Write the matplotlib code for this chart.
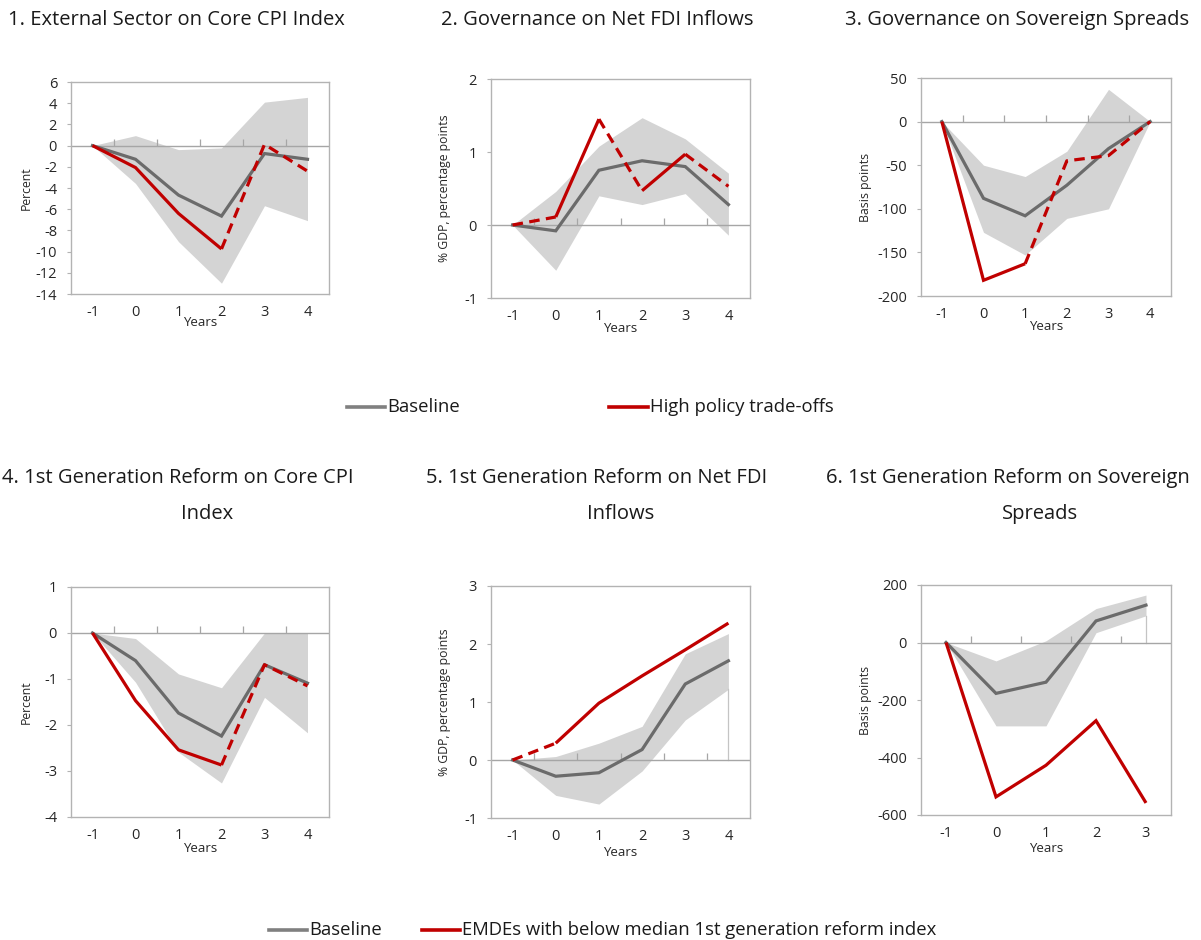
import matplotlib
matplotlib.use("Agg")
import matplotlib.pyplot as plt
from matplotlib.lines import Line2D
import numpy as np

plt.rcParams['font.family'] = ['Open Sans', 'DejaVu Sans']

# ---------------- data ----------------
years6 = [-1, 0, 1, 2, 3, 4]
years5 = [-1, 0, 1, 2, 3]

titles = [
    ["1. External Sector on Core CPI Index"],
    ["2. Governance on Net FDI Inflows"],
    ["3. Governance on Sovereign Spreads"],
    ["4. 1st Generation Reform on Core CPI", "Index"],
    ["5. 1st Generation Reform on Net FDI", "Inflows"],
    ["6. 1st Generation Reform on Sovereign", "Spreads"],
]
ylabels = ["Percent", "% GDP, percentage points", "Basis points",
           "Percent", "% GDP, percentage points", "Basis points"]

# Panel 1
p1_base = [0, -1.29, -4.67, -6.65, -0.75, -1.29]
p1_red = [0, -2.07, -6.40, -9.75, 0.12, -2.41]
p1_up = [0, 0.94, -0.38, -0.22, 4.10, 4.55]
p1_lo = [0, -3.57, -9.06, -12.98, -5.67, -7.08]
p1_dash = [0, 0, 0, 1, 1]
p1_yticks = [6, 4, 2, 0, -2, -4, -6, -8, -10, -12, -14]

# Panel 2
p2_base = [0, -0.08, 0.75, 0.88, 0.80, 0.28]
p2_red = [0, 0.11, 1.45, 0.47, 0.97, 0.53]
p2_up = [0, 0.46, 1.08, 1.47, 1.18, 0.71]
p2_lo = [0, -0.62, 0.40, 0.28, 0.43, -0.14]
p2_dash = [1, 0, 1, 0, 1]
p2_yticks = [2, 1, 0, -1]

# Panel 3
p3_base = [0, -88, -108, -73, -31, 0]
p3_red = [0, -182, -163, -45, -39, 0]
p3_up = [0, -50, -63, -34, 37, 0]
p3_lo = [0, -127, -153, -111, -100, 0]
p3_dash = [0, 0, 1, 1, 1]
p3_yticks = [50, 0, -50, -100, -150, -200]

# Panel 4
p4_base = [0, -0.60, -1.74, -2.24, -0.69, -1.09]
p4_red = [0, -1.47, -2.54, -2.87, -0.69, -1.15]
p4_up = [0, -0.12, -0.89, -1.19, 0.0, 0.0]
p4_lo = [0, -1.07, -2.59, -3.26, -1.40, -2.17]
p4_dash = [0, 0, 0, 1, 1]
p4_yticks = [1, 0, -1, -2, -3, -4]

# Panel 5
p5_base = [0, -0.28, -0.22, 0.18, 1.31, 1.71]
p5_red = [0, 0.29, 0.98, 1.45, 1.90, 2.36]
p5_up = [0, 0.06, 0.29, 0.58, 1.83, 2.18]
p5_lo = [0, -0.61, -0.76, -0.19, 0.69, 1.22]
p5_dash = [1, 0, 0, 0, 0]
p5_yticks = [3, 2, 1, 0, -1]

# Panel 6
p6_base = [0, -177, -138, 75, 130]
p6_red = [0, -537, -427, -272, -558]
p6_up = [0, -64, 6, 118, 165]
p6_lo = [0, -290, -290, 34, 93]
p6_dash = [0, 0, 0, 0]
p6_yticks = [200, 0, -200, -400, -600]

panels = [
    (years6, p1_base, p1_red, p1_up, p1_lo, p1_dash, p1_yticks),
    (years6, p2_base, p2_red, p2_up, p2_lo, p2_dash, p2_yticks),
    (years6, p3_base, p3_red, p3_up, p3_lo, p3_dash, p3_yticks),
    (years6, p4_base, p4_red, p4_up, p4_lo, p4_dash, p4_yticks),
    (years6, p5_base, p5_red, p5_up, p5_lo, p5_dash, p5_yticks),
    (years5, p6_base, p6_red, p6_up, p6_lo, p6_dash, p6_yticks),
]

legend1 = ["Baseline", "High policy trade-offs"]
legend2 = ["Baseline", "EMDEs with below median 1st generation reform index"]

# ---------------- style ----------------
W, H = 1201, 940
GRAY = '#6b6b6b'
RED = '#c00000'
BAND = '#d4d4d4'
SPINE = '#b3b3b3'
ZERO = '#a6a6a6'
TXT = '#262626'

# axes boxes in pixels: left, right, top, bottom
boxes = [
    (71, 329, 82, 294),
    (491, 750, 79, 298),
    (921, 1171, 78, 296),
    (71, 329, 587, 817),
    (491, 750, 586, 818),
    (921, 1171, 585, 815),
]
ylabel_x = [33, 451, 872, 33, 451, 872]
years_off = [29, 30, 31, 31, 34, 33]

title_pos = [
    [(176, 20)], [(597, 20)], [(1017, 20)],
    [(178, 478), (207, 514)], [(597, 478), (621, 514)], [(1008, 478), (1040, 514)],
]

fig = plt.figure(figsize=(W / 100, H / 100), dpi=100)


def draw_red(ax, x, y, dash):
    # group consecutive segments of the same style into polylines
    i = 0
    n = len(dash)
    while i < n:
        j = i
        while j + 1 < n and dash[j + 1] == dash[i]:
            j += 1
        xs = x[i:j + 2]
        ys = y[i:j + 2]
        if dash[i]:
            ax.plot(xs, ys, color=RED, lw=2.3, dashes=(3.3, 2.0),
                    solid_capstyle='butt', dash_capstyle='butt', zorder=5)
        else:
            ax.plot(xs, ys, color=RED, lw=2.3, solid_capstyle='butt',
                    solid_joinstyle='miter', zorder=5)
        i = j + 1


for k, (x, base, red, up, lo, dash, yt) in enumerate(panels):
    l, r, t, b = boxes[k]
    ax = fig.add_axes([l / W, 1 - b / H, (r - l) / W, (b - t) / H])
    x = np.array(x, dtype=float)
    ax.fill_between(x, lo, up, color=BAND, lw=0, zorder=1)
    # thin edge at the end of the band when it does not include zero
    if lo[-1] > 0:
        ax.plot([x[-1], x[-1]], [0, lo[-1]], color='#c4c4c4', lw=0.9, zorder=1.5)
    ax.axhline(0, color=ZERO, lw=1.0, zorder=2)
    # category boundary ticks on the zero line
    ax.plot(x[:-1] + 0.5, np.zeros(len(x) - 1), ls='none', marker=2,
            markersize=5, markeredgewidth=0.9, color=ZERO, zorder=2)
    ax.plot(x, base, color=GRAY, lw=2.3, solid_joinstyle='miter', zorder=4)
    draw_red(ax, x, np.array(red, dtype=float), dash)

    ax.set_xlim(x[0] - 0.5, x[-1] + 0.5)
    ax.set_ylim(min(yt), max(yt))
    ax.set_yticks(yt)
    ax.set_yticklabels([str(v) for v in yt])
    ax.set_xticks(x)
    ax.set_xticklabels([str(int(v)) for v in x])
    ax.tick_params(axis='x', length=0, pad=8, labelsize=10.5, colors=TXT)
    ax.tick_params(axis='y', length=3, width=0.8, color=SPINE, pad=7,
                   labelsize=10.5, labelcolor=TXT)
    for s in ax.spines.values():
        s.set_color(SPINE)
        s.set_linewidth(1.0)
    ax.set_ylabel(ylabels[k], fontsize=8.8, color=TXT)
    ax.yaxis.set_label_coords((ylabel_x[k] - l) / (r - l), 0.5)
    ax.text(0.5, -years_off[k] / (b - t), "Years", transform=ax.transAxes,
            ha='center', va='center', fontsize=9.5, color=TXT)

    for line, (cx, cy) in zip(titles[k], title_pos[k]):
        fig.text(cx / W, 1 - cy / H, line, ha='center', va='center',
                 fontsize=14.5, color='#1a1a1a')


def legend_item(x0, x1, y, color, label):
    fig.add_artist(Line2D([x0 / W, x1 / W], [1 - y / H, 1 - y / H],
                          transform=fig.transFigure, color=color, lw=2.6))
    fig.text((x1 + 2) / W, 1 - y / H, label, ha='left', va='center',
             fontsize=13.3, color='#1a1a1a')


legend_item(347, 385, 407, '#808080', legend1[0])
legend_item(609, 648, 407, RED, legend1[1])
legend_item(269, 307, 930, '#808080', legend2[0])
legend_item(422, 460, 930, RED, legend2[1])

fig.savefig("out.png", dpi=100)
